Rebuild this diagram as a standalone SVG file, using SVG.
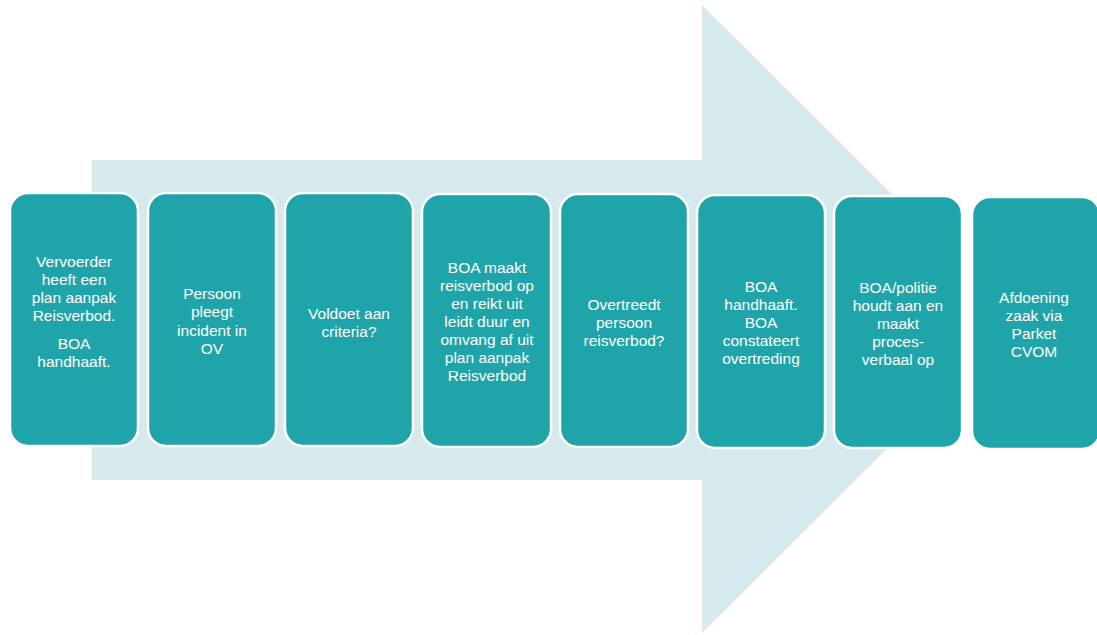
<svg xmlns="http://www.w3.org/2000/svg" width="1097" height="635" viewBox="0 0 1097 635">
<style>
.box{fill:#1fa5a9;stroke:#ffffff;stroke-width:2.5}
.t{font-family:"Liberation Sans",Arial,sans-serif;font-size:15.5px;fill:#ffffff;text-anchor:middle}
</style>
<rect width="1097" height="635" fill="#ffffff"/>
<g id="arrow">
<polygon points="92,160 702,160 702,5 961,263 961,375 702,633 702,480 92,480" fill="#d6eaed"/>
</g>
<g id="connectors"></g>
<g id="n1"><rect class="box" x="10" y="193" width="128" height="253" rx="18"/>
<text class="t"><tspan x="74" y="267">Vervoerder</tspan><tspan x="74" y="285">heeft een</tspan><tspan x="74" y="303">plan aanpak</tspan><tspan x="74" y="321">Reisverbod.</tspan><tspan x="74" y="349">BOA</tspan><tspan x="74" y="367">handhaaft.</tspan></text></g>
<g id="n2"><rect class="box" x="148" y="193" width="128" height="253" rx="18"/>
<text class="t"><tspan x="212" y="299">Persoon</tspan><tspan x="212" y="317">pleegt</tspan><tspan x="212" y="335.5">incident in</tspan><tspan x="212" y="354">OV</tspan></text></g>
<g id="n3"><rect class="box" x="285" y="193" width="128" height="253" rx="18"/>
<text class="t"><tspan x="349" y="319">Voldoet aan</tspan><tspan x="349" y="337">criteria?</tspan></text></g>
<g id="n4"><rect class="box" x="422" y="194" width="129" height="253" rx="18"/>
<text class="t"><tspan x="487" y="272.5">BOA maakt</tspan><tspan x="487" y="290.5">reisverbod op</tspan><tspan x="487" y="308.5">en reikt uit</tspan><tspan x="487" y="327">leidt duur en</tspan><tspan x="487" y="345">omvang af uit</tspan><tspan x="487" y="363">plan aanpak</tspan><tspan x="487" y="381">Reisverbod</tspan></text></g>
<g id="n5"><rect class="box" x="560" y="194" width="128" height="253" rx="18"/>
<text class="t"><tspan x="624" y="309.5">Overtreedt</tspan><tspan x="624" y="327.5">persoon</tspan><tspan x="624" y="345.5">reisverbod?</tspan></text></g>
<g id="n6"><rect class="box" x="697" y="195" width="128" height="253" rx="18"/>
<text class="t"><tspan x="761" y="291.5">BOA</tspan><tspan x="761" y="309.5">handhaaft.</tspan><tspan x="761" y="327.5">BOA</tspan><tspan x="761" y="345.5">constateert</tspan><tspan x="761" y="363.5">overtreding</tspan></text></g>
<g id="n7"><rect class="box" x="834" y="196" width="128" height="252" rx="18"/>
<text class="t"><tspan x="898" y="292.5">BOA/politie</tspan><tspan x="898" y="310.5">houdt aan en</tspan><tspan x="898" y="328.5">maakt</tspan><tspan x="898" y="346.5">proces-</tspan><tspan x="898" y="365">verbaal op</tspan></text></g>
<g id="n8"><rect class="box" x="972" y="197" width="128" height="252" rx="18"/>
<text class="t"><tspan x="1034" y="302.5">Afdoening</tspan><tspan x="1034" y="320.5">zaak via</tspan><tspan x="1034" y="338.5">Parket</tspan><tspan x="1034" y="356.5">CVOM</tspan></text></g>
</svg>
